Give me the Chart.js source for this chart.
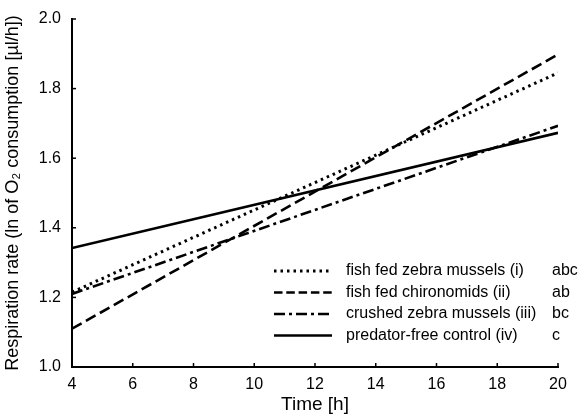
<!DOCTYPE html>
<html lang="en">
<head>
  <meta charset="UTF-8" />
  <title>Respiration rate over time</title>
  <script src="https://cdn.jsdelivr.net/npm/chart.js"></script>
  <style>
    * { margin: 0; padding: 0; box-sizing: border-box; }
    body { background: #fff; width: 580px; height: 420px; }
    .wrap { position: relative; width: 580px; height: 420px; }
  </style>
</head>
<body>
  <div class="wrap"><canvas id="chart"></canvas></div>

  <script>
    // Data (line end points at 4 h and 20 h)
    const hours = [4, 20];
    const zebraFed = [1.215, 1.845];
    const chironomidFed = [1.11, 1.898];
    const crushedZebra = [1.21, 1.693];
    const controlGroup = [1.342, 1.673];

    const seriesNames = [
      'fish fed zebra mussels (i)',
      'fish fed chironomids (ii)',
      'crushed zebra mussels (iii)',
      'predator-free control (iv)'
    ];
    const seriesLetters = ['abc', 'ab', 'bc', 'c'];
    const seriesDashes = [[2.5, 4], [11, 5], [11, 4, 3, 4], []];

    const xTicks = [4, 6, 8, 10, 12, 14, 16, 18, 20];
    const yTicks = [1.0, 1.2, 1.4, 1.6, 1.8, 2.0];

    const FONT = 'Liberation Sans, Arial, sans-serif';

    const toPoints = vals => vals.map((v, i) => ({ x: hours[i], y: v }));
    const allSeries = [zebraFed, chironomidFed, crushedZebra, controlGroup];

    const datasets = allSeries.map((vals, i) => ({
      label: seriesNames[i],
      data: toPoints(vals),
      borderColor: '#000',
      borderWidth: i === 0 ? 3 : 2.6,
      borderDash: seriesDashes[i],
      pointRadius: 0,
      fill: false,
      tension: 0
    }));

    // inward tick marks and the custom legend
    const extras = {
      id: 'extras',
      afterDraw(chart) {
        const ctx = chart.ctx;
        const xs = chart.scales.x, ys = chart.scales.y;
        ctx.save();
        ctx.strokeStyle = '#000';
        ctx.lineWidth = 1.5;
        ctx.setLineDash([]);
        xTicks.forEach(t => {
          const px = xs.getPixelForValue(t);
          ctx.beginPath();
          ctx.moveTo(px, ys.bottom);
          ctx.lineTo(px, ys.bottom - 4);
          ctx.stroke();
        });
        yTicks.forEach(t => {
          const py = ys.getPixelForValue(t);
          ctx.beginPath();
          ctx.moveTo(xs.left, py);
          ctx.lineTo(xs.left + 4, py);
          ctx.stroke();
        });

        // legend
        ctx.font = '16px ' + FONT;
        ctx.fillStyle = '#000';
        ctx.textBaseline = 'middle';
        seriesNames.forEach((name, i) => {
          const y = 271 + i * 21.5;
          ctx.lineWidth = i === 0 ? 3 : 2.6;
          ctx.setLineDash(i === 1 ? [8.5, 3.8] : seriesDashes[i]);
          ctx.beginPath();
          ctx.moveTo(274, y);
          ctx.lineTo(332, y);
          ctx.stroke();
          ctx.setLineDash([]);
          ctx.fillText(name, 346, y);
          ctx.fillText(seriesLetters[i], 552, y);
        });
        ctx.restore();
      }
    };

    new Chart(document.getElementById('chart'), {
      type: 'line',
      data: { datasets },
      options: {
        responsive: true,
        maintainAspectRatio: false,
        animation: false,
        layout: { padding: { top: 19, right: 22, left: 2, bottom: 0 } },
        plugins: { legend: { display: false }, tooltip: { enabled: false } },
        scales: {
          x: {
            type: 'linear',
            min: 4,
            max: 20,
            afterBuildTicks: s => { s.ticks = xTicks.map(v => ({ value: v })); },
            afterFit: s => { s.height = 53; },
            ticks: { color: '#000', font: { family: FONT, size: 16 }, padding: 0 },
            grid: { display: false },
            border: { color: '#000', width: 2 },
            title: { display: true, text: 'Time [h]', color: '#000', font: { family: FONT, size: 19 }, padding: { top: 3 } }
          },
          y: {
            min: 1,
            max: 2,
            afterBuildTicks: s => { s.ticks = yTicks.map(v => ({ value: v })); },
            afterFit: s => { s.width = 70; },
            ticks: { color: '#000', font: { family: FONT, size: 16 }, padding: 3, callback: v => v.toFixed(1) },
            grid: { display: false },
            border: { color: '#000', width: 2 },
            title: { display: true, text: 'Respiration rate (ln of O\u2082 consumption [µl/h])', color: '#000', font: { family: FONT, size: 18 }, padding: { top: 0, bottom: 2 } }
          }
        }
      },
      plugins: [extras]
    });
  </script>
</body>
</html>
